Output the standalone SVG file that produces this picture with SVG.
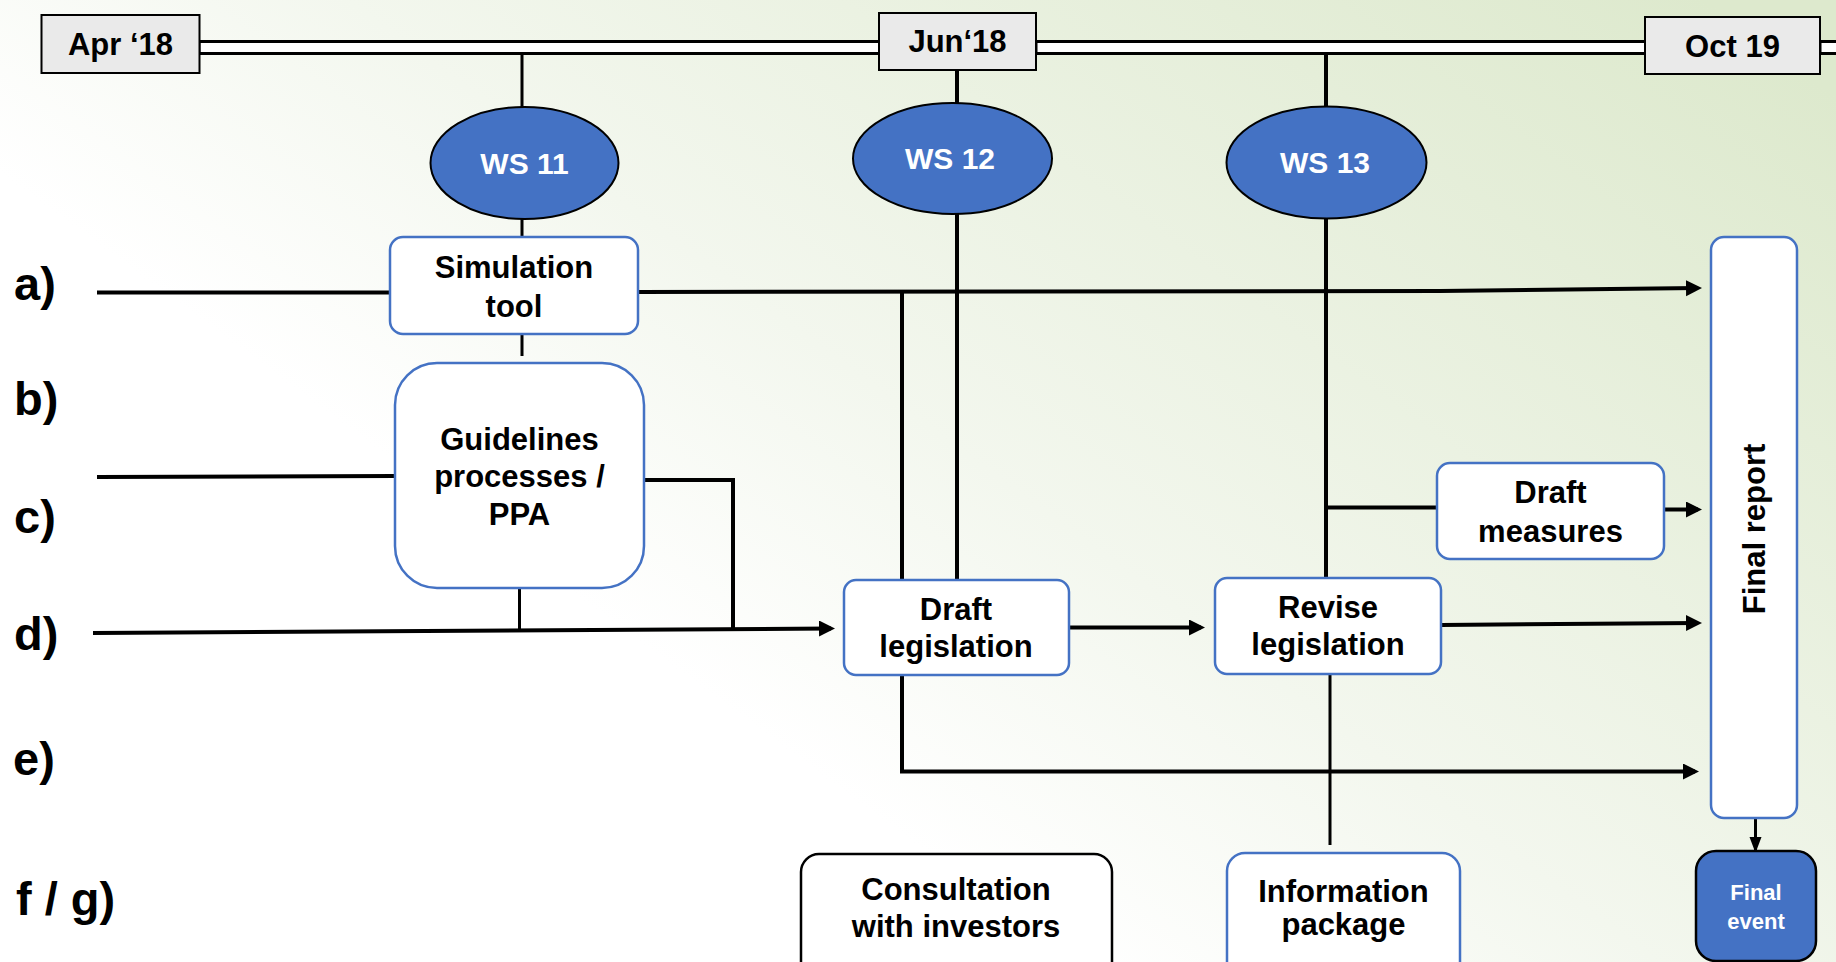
<svg xmlns="http://www.w3.org/2000/svg" width="1836" height="962" viewBox="0 0 1836 962">
<defs>
<linearGradient id="bg" x1="0.3" y1="0.6" x2="1" y2="0.1">
<stop offset="0" stop-color="#ffffff"/>
<stop offset="0.3" stop-color="#f3f7ee"/>
<stop offset="1" stop-color="#dde9cd"/>
</linearGradient>
<marker id="ah" markerUnits="userSpaceOnUse" markerWidth="18" markerHeight="18" refX="12" refY="8" orient="auto">
<path d="M0,0 L16,8 L0,16 z" fill="#000"/>
</marker>
<marker id="ahs" markerUnits="userSpaceOnUse" markerWidth="16" markerHeight="14" refX="13" refY="6" orient="auto">
<path d="M0,0 L16,6 L0,12 z" fill="#000"/>
</marker>
</defs>
<style>
.lbl{font-family:"Liberation Sans",Arial,sans-serif;font-weight:bold;font-size:47px;fill:#000}
.t{font-family:"Liberation Sans",Arial,sans-serif;font-weight:bold;font-size:31px;fill:#000;text-anchor:middle}
.tw{font-family:"Liberation Sans",Arial,sans-serif;font-weight:bold;font-size:30px;fill:#fff;text-anchor:middle}
.te{font-family:"Liberation Sans",Arial,sans-serif;font-weight:bold;font-size:22px;fill:#fff;text-anchor:middle}
.date{fill:#eaeaea;stroke:#000;stroke-width:2}
.box{fill:#fff;stroke:#4472c4;stroke-width:2.5}
.boxk{fill:#fff;stroke:#000;stroke-width:2.5}
.ell{fill:#4472c4;stroke:#000;stroke-width:2}
.c{fill:none;stroke:#000;stroke-width:4}
.ct{fill:none;stroke:#000;stroke-width:3}
.dl{fill:#fff;stroke:#000;stroke-width:3}
</style>
<rect x="0" y="0" width="1836" height="962" fill="url(#bg)"/>

<g id="timeline">
<rect class="dl" x="199" y="41.5" width="681" height="12"/>
<rect class="dl" x="1036" y="41.5" width="610" height="12"/>
<rect class="dl" x="1820" y="41.5" width="20" height="12"/>
</g>

<g id="connectors">
<path class="ct" d="M522,55 V237 M522,334 V356"/>
<path class="c" d="M957,70 V580"/>
<path class="c" d="M1326,52 V578"/>
<path class="ct" d="M1330,674 V845"/>
<path class="c" d="M97,292.5 H390"/>
<path class="c" d="M638,292 L1440,291 L1698,288" marker-end="url(#ah)"/>
<path class="c" d="M902,292 V771.5 H1695" marker-end="url(#ah)"/>
<path class="c" d="M97,477 L395,476"/>
<path class="c" d="M644,480 H733 V630"/>
<path class="ct" d="M519.5,588 V632"/>
<path class="c" d="M93,633 L831,628.5" marker-end="url(#ah)"/>
<path class="c" d="M1069,627.5 H1201" marker-end="url(#ah)"/>
<path class="c" d="M1441,625 L1698,623" marker-end="url(#ah)"/>
<path class="c" d="M1327,507.5 H1437"/>
<path class="c" d="M1664,509.5 H1698" marker-end="url(#ah)"/>
<path class="ct" d="M1755.5,818 V850" marker-end="url(#ahs)"/>
</g>

<g id="apr18"><rect class="date" x="41.5" y="15" width="158" height="58"/><text class="t" x="120.5" y="55">Apr ‘18</text></g>
<g id="jun18"><rect class="date" x="879" y="13" width="157" height="57"/><text class="t" x="957.5" y="52">Jun‘18</text></g>
<g id="oct19"><rect class="date" x="1645" y="17" width="175" height="57"/><text class="t" x="1732.5" y="57">Oct 19</text></g>

<g id="ws11"><ellipse class="ell" cx="524.5" cy="163" rx="94" ry="56"/><text class="tw" x="524.5" y="174">WS 11</text></g>
<g id="ws12"><ellipse class="ell" cx="952.5" cy="158.5" rx="99.5" ry="55.5"/><text class="tw" x="950" y="169">WS 12</text></g>
<g id="ws13"><ellipse class="ell" cx="1326.5" cy="162.5" rx="100" ry="56"/><text class="tw" x="1325" y="173">WS 13</text></g>

<g id="labels">
<text class="lbl" x="14" y="300">a)</text>
<text class="lbl" x="14" y="415">b)</text>
<text class="lbl" x="14" y="533">c)</text>
<text class="lbl" x="14" y="650">d)</text>
<text class="lbl" x="13" y="775">e)</text>
<text class="lbl" x="16" y="915">f / g)</text>
</g>

<g id="simulation-tool"><rect class="box" x="390" y="237" width="248" height="97" rx="13"/><text class="t" x="514" y="278">Simulation</text><text class="t" x="514" y="317">tool</text></g>
<g id="guidelines"><rect class="box" x="395" y="363" width="249" height="225" rx="42"/><text class="t" x="519.5" y="450">Guidelines</text><text class="t" x="519.5" y="487">processes /</text><text class="t" x="519.5" y="525">PPA</text></g>
<g id="draft-legislation"><rect class="box" x="844" y="580" width="225" height="95" rx="12"/><text class="t" x="956" y="620">Draft</text><text class="t" x="956" y="657">legislation</text></g>
<g id="revise-legislation"><rect class="box" x="1215" y="578" width="226" height="96" rx="12"/><text class="t" x="1328" y="618">Revise</text><text class="t" x="1328" y="655">legislation</text></g>
<g id="draft-measures"><rect class="box" x="1437" y="463" width="227" height="96" rx="13"/><text class="t" x="1550.5" y="503">Draft</text><text class="t" x="1550.5" y="542">measures</text></g>
<g id="final-report"><rect class="box" x="1711" y="237" width="86" height="581" rx="13"/><text class="t" transform="translate(1765,529) rotate(-90)" x="0" y="0">Final report</text></g>
<g id="consultation"><rect class="boxk" x="801" y="854" width="311" height="130" rx="18"/><text class="t" x="956" y="900">Consultation</text><text class="t" x="956" y="937">with investors</text></g>
<g id="information-package"><rect class="box" x="1227" y="853" width="233" height="130" rx="18"/><text class="t" x="1343.5" y="902">Information</text><text class="t" x="1343.5" y="935">package</text></g>
<g id="final-event"><rect x="1696" y="851" width="120" height="110" rx="20" fill="#4472c4" stroke="#000" stroke-width="2.5"/><text class="te" x="1756" y="900">Final</text><text class="te" x="1756" y="929">event</text></g>
</svg>
